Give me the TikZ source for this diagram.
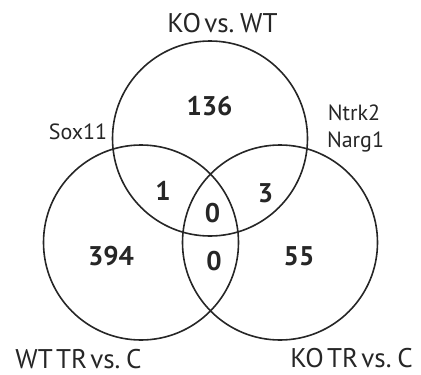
\documentclass[tikz,border=0pt]{standalone}
\usepackage{fontspec}
\setmainfont{PT Sans}
\newfontfamily\venntitlefont[WordSpace=0.45]{PT Sans}
\begin{document}
\begin{tikzpicture}[x=1pt,y=-1pt,
  venn/.style={draw=black!85,line width=1.6pt},
  num/.style={font=\fontsize{27}{29}\selectfont\bfseries,text=black!85,inner sep=0pt,anchor=base},
  title/.style={font=\venntitlefont\fontsize{27}{29}\selectfont,text=black!85,inner sep=0pt,anchor=base},
  gene/.style={font=\fontsize{22}{24}\selectfont,text=black!85,inner sep=0pt,anchor=base}]
\useasboundingbox (0,0) rectangle (421,375);
\draw[venn] (210,138.5) circle (97.5);
\draw[venn] (141,242.5) circle (97.5);
\draw[venn] (280,242.5) circle (97.5);
\node[title] (t1) at (222.5,32) {KO vs. WT};
\node[title] (t2) at (78.5,368) {WT TR vs. C};
\node[title] (t3) at (351.5,367.5) {KO TR vs. C};
\node[gene] (g1) at (78,139) {Sox11};
\node[gene] (g2) at (354,120) {Ntrk2};
\node[gene] (g3) at (355.5,147) {Narg1};
\node[num] (n1) at (209.5,115.5) {136};
\node[num] (n2) at (163,200.5) {1};
\node[num] (n3) at (265.5,202) {3};
\node[num] (n4) at (212.5,222) {0};
\node[num] (n5) at (214,270) {0};
\node[num] (n6) at (111,265) {394};
\node[num] (n7) at (299,265) {55};
\end{tikzpicture}
\end{document}
